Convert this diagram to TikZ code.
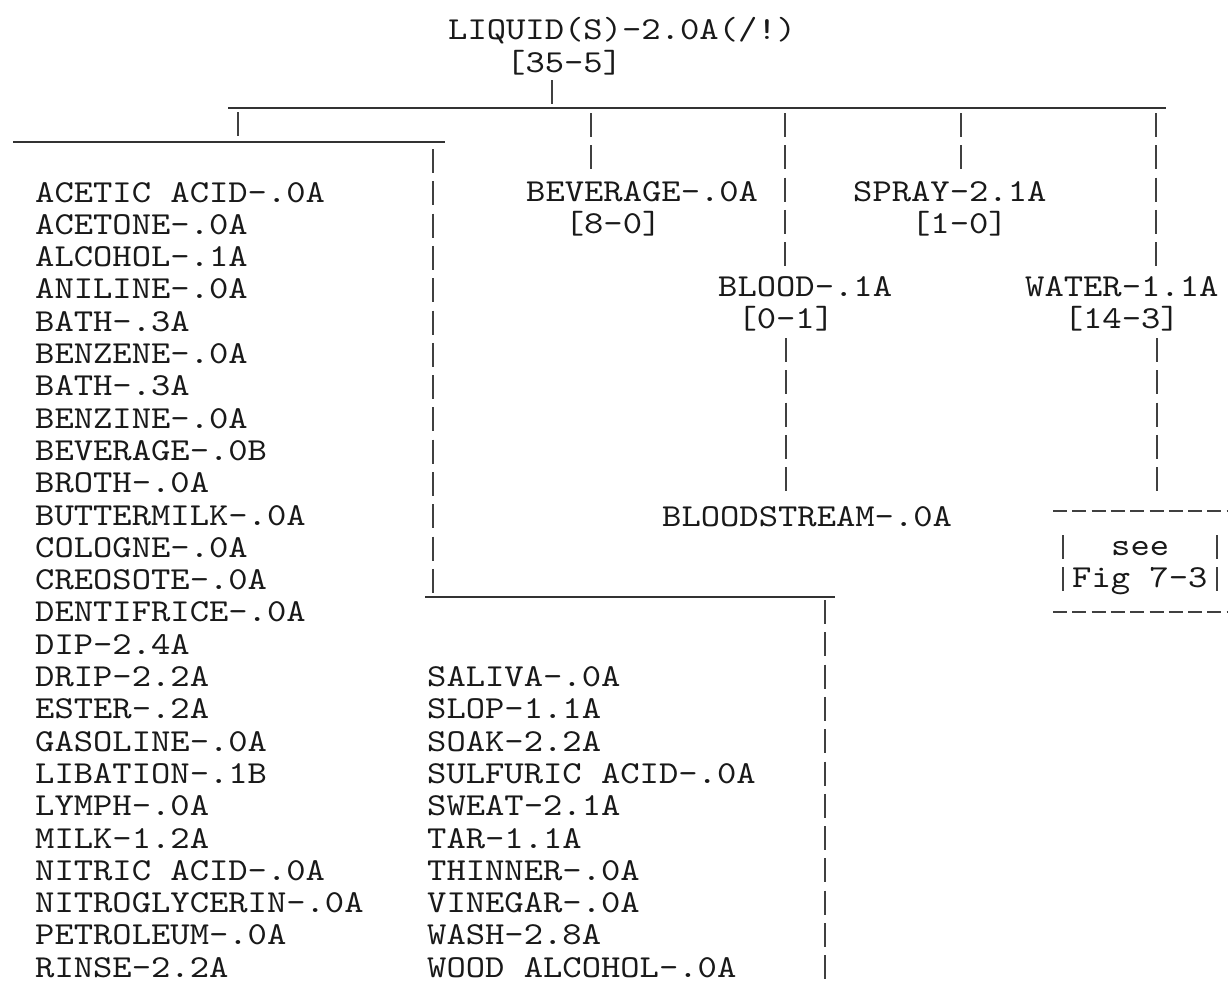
\documentclass[tikz,border=0pt]{standalone}
\usepackage{fontspec}
\usetikzlibrary{positioning}
\newfontfamily\typer{lmmono10-regular}[Extension=.otf,FakeStretch=1.15]

\tikzset{
  entry/.style={anchor=base west, inner sep=0pt, text=black!90,
    font=\typer\fontsize{32}{32}\selectfont},
  rule/.style={line width=1.6pt, black!80},
  bar/.style={line width=1.2pt, black!75, dash pattern=on 24pt off 8.3pt},
  dashrule/.style={line width=1.4pt, black!75, dash pattern=on 14pt off 5.3pt}
}

\begin{document}
\begin{tikzpicture}[x=1pt,y=-1pt]
    \useasboundingbox (0,0) rectangle (1230,983);

    % Root
    \node[entry] (liquid) at (448,39) {LIQUID(S)-2.0A(/!)};
    \node[entry] (liquidn) at (506,72) {[35-5]};

    % Second level
    \node[entry] (beverage) at (526,201) {BEVERAGE-.0A};
    \node[entry] (beveragen) at (564.6,233) {[8-0]};
    \node[entry] (spray) at (853,201) {SPRAY-2.1A};
    \node[entry] (sprayn) at (910.9,233) {[1-0]};
    \node[entry] (blood) at (718,296) {BLOOD-.1A};
    \node[entry] (bloodn) at (737.3,328) {[0-1]};
    \node[entry] (water) at (1025,296) {WATER-1.1A};
    \node[entry] (watern) at (1063.6,328) {[14-3]};
    \node[entry] (bloodstream) at (662,526) {BLOODSTREAM-.0A};

    % See box
    \node[entry] (see) at (1111,555) {see};
    \node[entry] (fig) at (1072,587) {Fig 7-3};

    % Word lists
    \foreach \t [count=\i from 0] in {ACETIC ACID-.0A,ACETONE-.0A,ALCOHOL-.1A,
        ANILINE-.0A,BATH-.3A,BENZENE-.0A,BATH-.3A,BENZINE-.0A,BEVERAGE-.0B,
        BROTH-.0A,BUTTERMILK-.0A,COLOGNE-.0A,CREOSOTE-.0A,DENTIFRICE-.0A,
        DIP-2.4A,DRIP-2.2A,ESTER-.2A,GASOLINE-.0A,LIBATION-.1B,LYMPH-.0A,
        MILK-1.2A,NITRIC ACID-.0A,NITROGLYCERIN-.0A,PETROLEUM-.0A,RINSE-2.2A}
      \node[entry] (a\i) at (35,{202+32.3*\i}) {\t};
    \foreach \t [count=\i from 15] in {SALIVA-.0A,SLOP-1.1A,SOAK-2.2A,
        SULFURIC ACID-.0A,SWEAT-2.1A,TAR-1.1A,THINNER-.0A,VINEGAR-.0A,
        WASH-2.8A,WOOD ALCOHOL-.0A}
      \node[entry] (s\i) at (427,{202+32.3*\i}) {\t};

    % Connector ends
    \coordinate (rootT) at (552,80);
    \coordinate (rootB) at (552,104);
    \coordinate (mainL) at (228,108);
    \coordinate (mainR) at (1166,108);
    \coordinate (listT) at (238,112);
    \coordinate (listB) at (238,138);
    \coordinate (leftL) at (13,142);
    \coordinate (leftR) at (445,142);
    \coordinate (leftT) at (433,149);
    \coordinate (leftB) at (433,594);
    \coordinate (lowL) at (425,597);
    \coordinate (lowR) at (835,597);
    \coordinate (lowT) at (825,600);
    \coordinate (lowB) at (825,979);
    \coordinate (bevT) at (591,113);
    \coordinate (bevB) at (591,170);
    \coordinate (bloT) at (785,113);
    \coordinate (bloB) at (785,267);
    \coordinate (spT) at (961,113);
    \coordinate (spB) at (961,170);
    \coordinate (waT) at (1156,113);
    \coordinate (waB) at (1156,267);
    \coordinate (bsT) at (786,338);
    \coordinate (bsB) at (786,492);
    \coordinate (fgT) at (1157,338);
    \coordinate (fgB) at (1157,492);

    % Tree lines
    \draw[bar] (rootT) -- (rootB);
    \draw[rule] (mainL) -- (mainR);
    \draw[bar] (listT) -- (listB);
    \draw[rule] (leftL) -- (leftR);
    \draw[bar] (leftT) -- (leftB);
    \draw[rule] (lowL) -- (lowR);
    \draw[bar] (lowT) -- (lowB);
    \draw[bar] (bevT) -- (bevB);
    \draw[bar] (bloT) -- (bloB);
    \draw[bar] (spT) -- (spB);
    \draw[bar] (waT) -- (waB);
    \draw[bar] (bsT) -- (bsB);
    \draw[bar] (fgT) -- (fgB);

    % Box round the reference
    \draw[dashrule] (1053,511) -- (1227,511);
    \draw[dashrule] (1053,612) -- (1227,612);
    \draw[bar] (1063,535) -- (1063,592);
    \draw[bar] (1217,535) -- (1217,592);
\end{tikzpicture}
\end{document}
